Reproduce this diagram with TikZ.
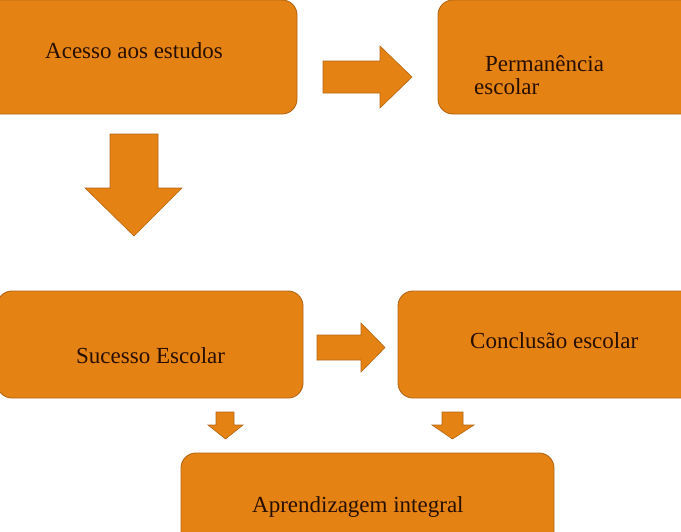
\documentclass[tikz,border=0pt]{standalone}
\usepackage{fontspec}
\setmainfont{Liberation Serif}
\definecolor{boxfill}{RGB}{228,130,20}
\definecolor{boxline}{RGB}{180,102,20}
\definecolor{txt}{RGB}{40,16,0}
\tikzset{
  stagebox/.style={draw=boxline, fill=boxfill, line width=0.9pt, rounded corners=15pt},
  blockarrow/.style={draw=boxline, fill=boxfill, line width=0.6pt, line join=miter},
  lbl/.style={anchor=base west, inner sep=0pt, text=txt, font=\fontsize{23}{25}\selectfont}
}
\begin{document}
\begin{tikzpicture}[x=1pt,y=-1pt]
\useasboundingbox (0,0) rectangle (681,531);
\clip (0,0) rectangle (681,531);
% boxes
\path[stagebox] (-20,0) rectangle (297,114);
\path[stagebox] (438,0) rectangle (710,114);
\path[stagebox] (-3,291) rectangle (303,398);
\path[stagebox] (398,291) rectangle (710,398);
\path[stagebox] (181,453) rectangle (554,560);
% block arrows
\path[blockarrow] (323,61) -- (380,61) -- (380,46) -- (412,77) -- (380,108) -- (380,93) -- (323,93) -- cycle;
\path[blockarrow] (110,134) -- (158,134) -- (158,188) -- (182,188) -- (134,236) -- (85,188) -- (110,188) -- cycle;
\path[blockarrow] (317,335) -- (361,335) -- (361,323) -- (385,347.5) -- (361,372) -- (361,360) -- (317,360) -- cycle;
\path[blockarrow] (216,412) -- (234,412) -- (234,425) -- (243,425) -- (225.5,439) -- (208,425) -- (216,425) -- cycle;
\path[blockarrow] (442,412) -- (463,412) -- (463,425) -- (474,425) -- (452.5,439) -- (432,425) -- (442,425) -- cycle;
% labels
\node[lbl] (acesso) at (45,58) {Acesso aos estudos};
\node[lbl] (perm1) at (485,71) {Permanência};
\node[lbl] (perm2) at (474,94) {escolar};
\node[lbl] (sucesso) at (76,363) {Sucesso Escolar};
\node[lbl] (conclusao) at (470,348) {Conclusão escolar};
\node[lbl] (aprend) at (252,512) {Aprendizagem integral};
\end{tikzpicture}
\end{document}
